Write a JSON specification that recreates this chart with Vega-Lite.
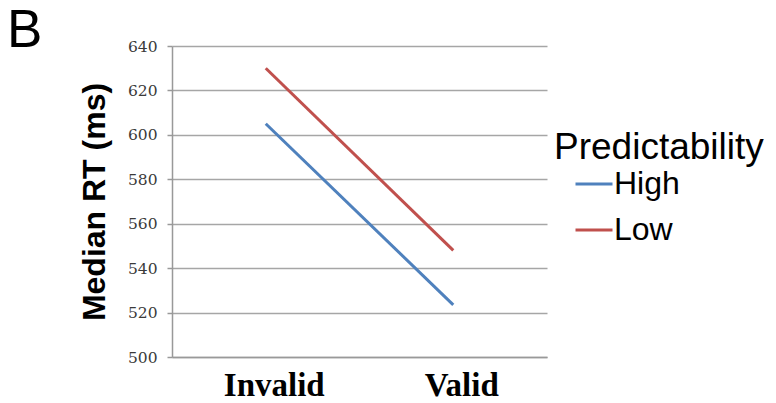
{
  "$schema": "https://vega.github.io/schema/vega-lite/v6.json",
  "width": 375,
  "height": 311,
  "autosize": "none",
  "padding": {"left": 172, "top": 46, "right": 229, "bottom": 46},
  "background": "white",
  "title": {
    "text": "B",
    "anchor": "start",
    "frame": "group",
    "font": "Liberation Sans",
    "fontSize": 53,
    "fontWeight": "normal",
    "color": "black",
    "baseline": "alphabetic",
    "dx": -165,
    "dy": 61,
    "offset": 0
  },
  "data": {
    "values": [
      {"cue": "Invalid", "pred": "High", "rt": 605},
      {"cue": "Valid", "pred": "High", "rt": 523.5},
      {"cue": "Invalid", "pred": "Low", "rt": 630},
      {"cue": "Valid", "pred": "Low", "rt": 548}
    ]
  },
  "mark": {"type": "line", "strokeWidth": 3},
  "encoding": {
    "x": {
      "field": "cue",
      "type": "nominal",
      "scale": {"type": "point", "padding": 0.5},
      "axis": {
        "title": null,
        "labelAngle": 0,
        "ticks": false,
        "labelFont": "Liberation Serif",
        "labelFontWeight": "bold",
        "labelFontSize": 33,
        "labelColor": "black",
        "labelPadding": 12,
        "labelOffset": 8,
        "domainColor": "#999999",
        "domainWidth": 1.5,
        "grid": false
      }
    },
    "y": {
      "field": "rt",
      "type": "quantitative",
      "scale": {"domain": [500, 640], "nice": false, "zero": false},
      "axis": {
        "title": "Median RT (ms)",
        "titleFont": "Liberation Sans",
        "titleFontWeight": "bold",
        "titleFontSize": 32,
        "titleColor": "black",
        "titlePadding": 16,
        "values": [500, 520, 540, 560, 580, 600, 620, 640],
        "labelFont": "DejaVu Serif",
        "labelFontSize": 15.5,
        "labelColor": "#3a3a3a",
        "labelPadding": 10,
        "tickSize": 5,
        "tickColor": "#999999",
        "tickWidth": 1.5,
        "grid": true,
        "gridColor": "#a6a6a6",
        "gridWidth": 1.5,
        "domainColor": "#999999",
        "domainWidth": 1.5
      }
    },
    "color": {
      "field": "pred",
      "type": "nominal",
      "scale": {"domain": ["High", "Low"], "range": ["#4F81BD", "#C0504D"]},
      "legend": {
        "title": "Predictability",
        "orient": "none",
        "legendX": 382,
        "legendY": 84,
        "padding": 0,
        "titleFont": "Liberation Sans",
        "titleFontSize": 37,
        "titleFontWeight": "normal",
        "titleColor": "black",
        "titlePadding": -3,
        "titleLimit": 400,
        "labelFont": "Liberation Sans",
        "labelFontSize": 32,
        "labelColor": "black",
        "labelOffset": 0,
        "symbolType": "stroke",
        "symbolSize": 1369,
        "symbolStrokeWidth": 3,
        "symbolOffset": 20,
        "rowPadding": 10
      }
    }
  },
  "config": {"view": {"stroke": null}}
}
